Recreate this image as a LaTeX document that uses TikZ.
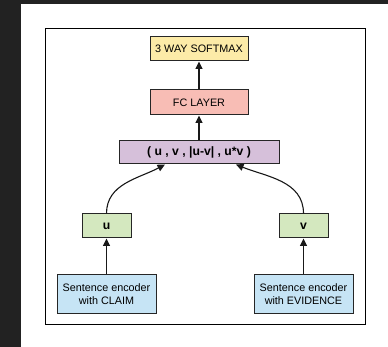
\documentclass[tikz,border=0pt]{standalone}
\usepackage{fontspec}
\setmainfont{Liberation Sans}
\usetikzlibrary{arrows.meta}
\definecolor{pagedark}{HTML}{222222}
\definecolor{cyellow}{HTML}{FCEBA8}
\definecolor{cpink}{HTML}{F8BDB5}
\definecolor{cpurple}{HTML}{D6C0DA}
\definecolor{cgreen}{HTML}{D4E8BF}
\definecolor{cblue}{HTML}{C6E4F5}
\tikzset{
  blk/.style={draw=black!85, line width=1pt, inner sep=0pt, align=center,
    font=\fontsize{10.8}{12.8}\selectfont, text=black},
  boldblk/.style={blk, font=\fontsize{12.2}{14}\selectfont\bfseries},
  conn/.style={draw=black!90, line width=1.1pt, -{Triangle[length=7.5pt,width=7pt]}}
}
\begin{document}
\begin{tikzpicture}[x=1pt,y=-1pt]
  \useasboundingbox (0,0) rectangle (388,347);
  \fill[pagedark] (0,0) rectangle (388,347);
  \fill[white] (21,4) rectangle (388,347);
  \draw[black, line width=0.9pt] (45,28) rectangle (365,324);

  \node[blk, fill=cyellow, minimum width=98pt, minimum height=24pt] (soft) at (199,49) {3 WAY SOFTMAX};
  \node[blk, fill=cpink, minimum width=98pt, minimum height=25pt] (fc) at (199,102.5) {FC LAYER};
  \node[boldblk, fill=cpurple, minimum width=160pt, minimum height=23pt] (cat) at (199,152.5) {( u , v , |u-v| , u*v )};
  \node[boldblk, fill=cgreen, minimum width=49pt, minimum height=24pt] (u) at (106.5,226) {u};
  \node[boldblk, fill=cgreen, minimum width=49pt, minimum height=24pt] (v) at (303.5,226) {v};
  \node[blk, fill=cblue, minimum width=99pt, minimum height=38pt] (claim) at (106.5,294) {Sentence encoder\\with CLAIM};
  \node[blk, fill=cblue, minimum width=99pt, minimum height=38pt] (evid) at (303.5,294) {Sentence encoder\\with EVIDENCE};

  \draw[conn] (claim.north) -- (u.south);
  \draw[conn] (evid.north) -- (v.south);
  \draw[conn] (u.north) to[out=90, in=-152] ([xshift=-34pt]cat.south);
  \draw[conn] (v.north) to[out=90, in=-22] ([xshift=37pt]cat.south);
  \draw[conn] (cat.north) -- (fc.south);
  \draw[conn] (fc.north) -- (soft.south);
\end{tikzpicture}
\end{document}
